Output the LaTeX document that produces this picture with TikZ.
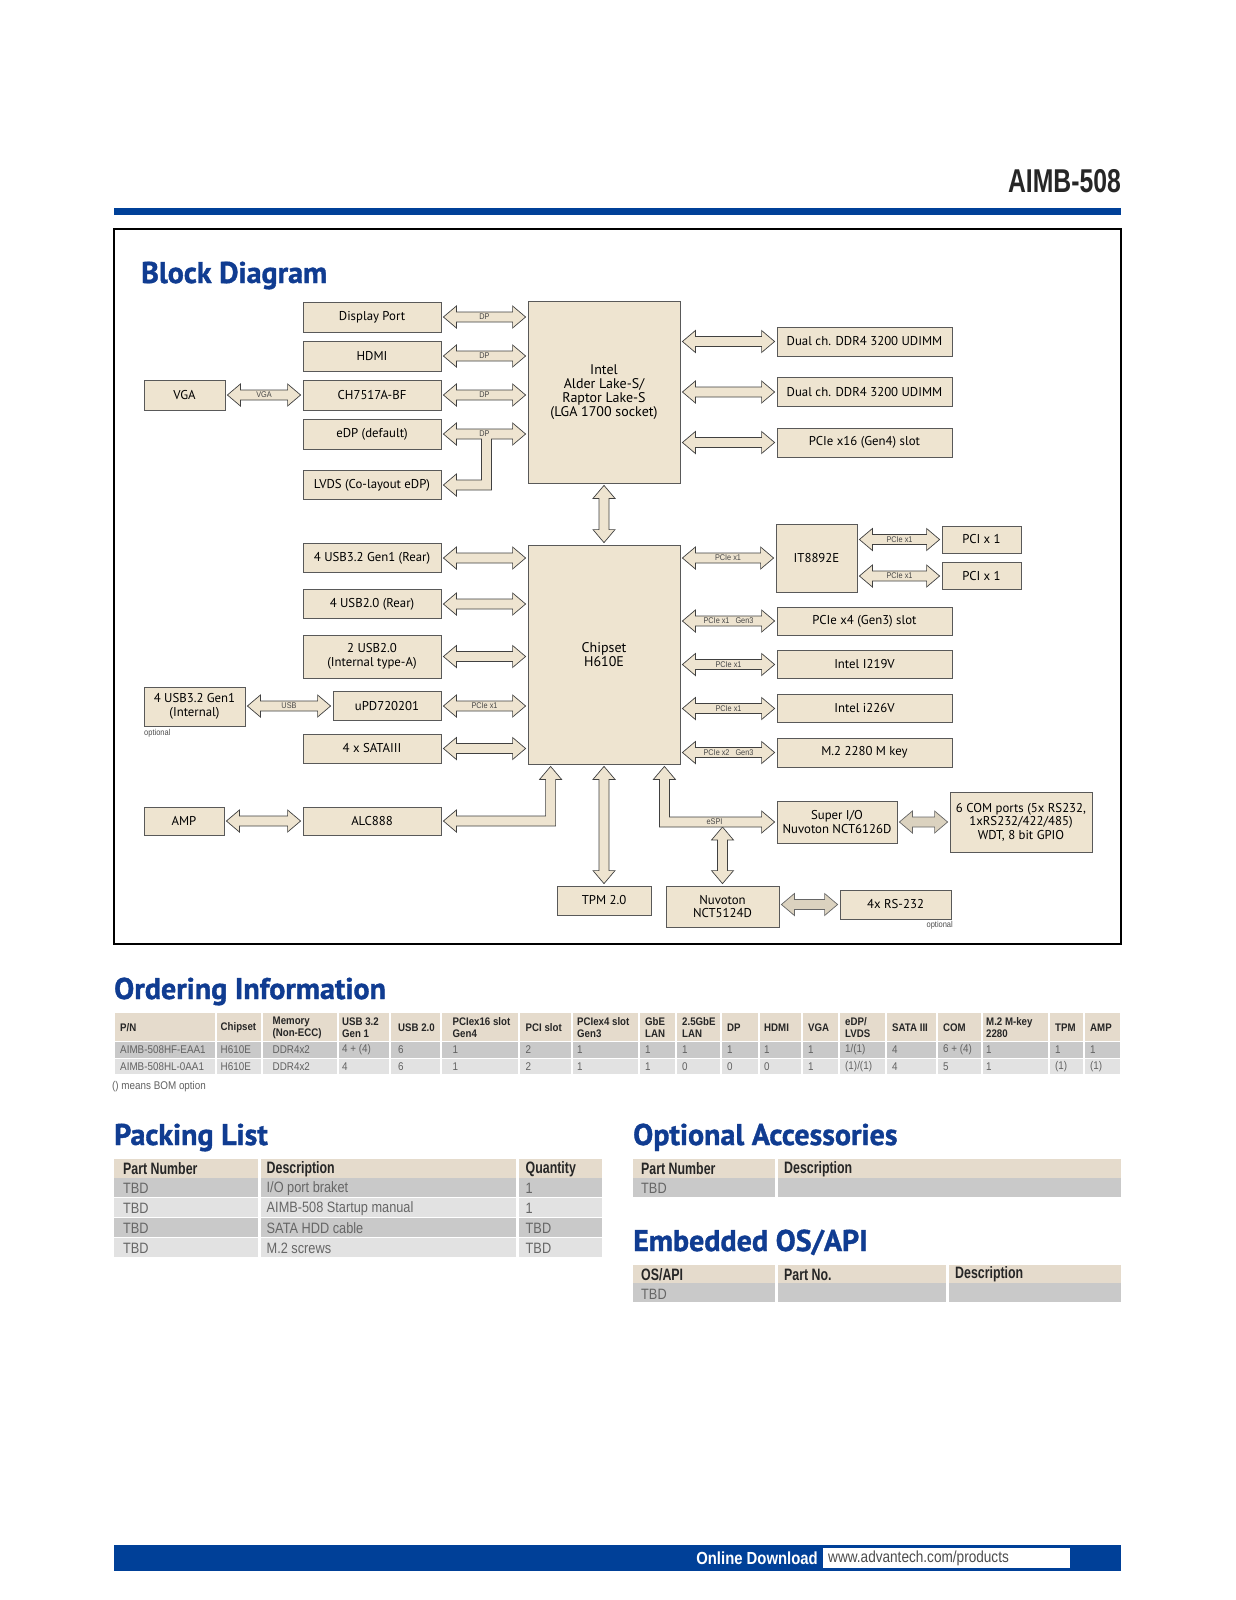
\documentclass[tikz,border=0pt]{standalone}
\usepackage{fontspec}
\setmainfont{PT Sans}
\newfontfamily\boxfont{PT Sans}
\newfontfamily\ttlfont[FakeStretch=1.0,BoldFeatures={FakeBold=1.2}]{PT Sans}
\newfontfamily\cndfont[FakeStretch=0.88]{Liberation Sans}
\newfontfamily\hdrfont[FakeStretch=0.75]{Liberation Sans}
\newfontfamily\pfont[FakeStretch=0.85]{Liberation Sans}
\usetikzlibrary{calc}
\definecolor{boxfill}{RGB}{238,228,208}
\definecolor{advblue}{RGB}{0,64,152}
\definecolor{ttlblue}{RGB}{16,60,145}
\definecolor{hdrtan}{RGB}{229,219,204}
\definecolor{rowA}{RGB}{201,201,201}
\definecolor{rowB}{RGB}{226,226,226}
\def\ag{2pt}
\def\ahl{13pt}
\def\ahw{11pt}
\def\abw{5pt}
\newcommand{\hda}[5][fatarrow]{%
 \draw[#1] let \p1=(#2), \p2=(#3), \p3=(#4) in
  (\x1+\ag,\y3) -- (\x1+\ag+\ahl,\y3+\ahw) -- (\x1+\ag+\ahl,\y3+\abw) -- (\x2-\ag-\ahl,\y3+\abw) -- (\x2-\ag-\ahl,\y3+\ahw) -- (\x2-\ag,\y3) -- (\x2-\ag-\ahl,\y3-\ahw) -- (\x2-\ag-\ahl,\y3-\abw) -- (\x1+\ag+\ahl,\y3-\abw) -- (\x1+\ag+\ahl,\y3-\ahw) -- cycle
  ({(\x1+\x2)/2},\y3) node[alabel]{#5};}
\newcommand{\vda}[3]{%
 \draw[fatarrow] let \p1=(#1), \p2=(#2), \p3=(#3) in
  (\x3,\y1-\ag) -- (\x3+\ahw,\y1-\ag-\ahl) -- (\x3+\abw,\y1-\ag-\ahl) -- (\x3+\abw,\y2+\ag+\ahl) -- (\x3+\ahw,\y2+\ag+\ahl) -- (\x3,\y2+\ag) -- (\x3-\ahw,\y2+\ag+\ahl) -- (\x3-\abw,\y2+\ag+\ahl) -- (\x3-\abw,\y1-\ag-\ahl) -- (\x3-\ahw,\y1-\ag-\ahl) -- cycle;}
\newcommand{\ocol}[7]{%
 \fill[hdrtan] (#2,1013) rectangle (#3,1041);
 \fill[rowA] (#2,1042) rectangle (#3,1057.5);
 \fill[rowB] (#2,1058.5) rectangle (#3,1074);
 \node[ohead] (oh#1) at (#4,1027.5) {#5};
 \node[odata] (oa#1) at (#4,1050) {#6};
 \node[odata] (ob#1) at (#4,1066.5) {#7};}
\begin{document}
\begin{tikzpicture}[x=1pt,y=-1pt,
 box/.style={draw=black!65, fill=boxfill, line width=0.8pt, inner sep=1pt, align=center, font=\boxfont\fontsize{12.8}{13.5}\selectfont, text=black},
 big/.style={font=\boxfont\fontsize{14}{14}\selectfont},
 fatarrow/.style={fill=boxfill, draw=black!75, line width=0.7pt, line join=miter},
 greyarrow/.style={fill=black!8!boxfill, draw=black!60, line width=0.7pt, line join=miter},
 alabel/.style={font=\cndfont\fontsize{8.3}{9}\selectfont, text=black!72, inner sep=0},
 small/.style={font=\cndfont\fontsize{8.5}{9}\selectfont, text=black!70, inner sep=0},
 ttl/.style={font=\ttlfont\bfseries\fontsize{30}{31}\selectfont, text=ttlblue, anchor=base west, inner sep=0},
 ohead/.style={font=\cndfont\bfseries\fontsize{11}{12}\selectfont, text=black!85, anchor=west, align=left, inner sep=0},
 odata/.style={font=\cndfont\fontsize{11.2}{12}\selectfont, text=black!62, anchor=west, inner sep=0},
 phead/.style={font=\hdrfont\bfseries\fontsize{16.5}{17}\selectfont, text=black!85, anchor=west, inner sep=0},
 pdata/.style={font=\pfont\fontsize{15}{16}\selectfont, text=black!60, anchor=west, inner sep=0}]
\useasboundingbox (0,0) rectangle (1236,1600);
\fill[white] (0,0) rectangle (1236,1600);
% page header
\node[font=\hdrfont\bfseries\fontsize{33}{34}\selectfont, text=black!85, anchor=base east, inner sep=0] (model) at (1121,192) {AIMB-508};
\fill[advblue] (114,208) rectangle (1121,215);
\draw[line width=2.6pt] (114,229) rectangle (1121,944);
\node[ttl] (tbd) at (141,283) {Block Diagram};
% main chips
\node[box, big, minimum width=152pt, minimum height=182pt] (cpu) at (604,392) {Intel\\Alder Lake-S/\\Raptor Lake-S\\(LGA 1700 socket)};
\node[box, big, minimum width=152pt, minimum height=219pt] (chip) at (604,654.5) {Chipset\\H610E};
% left of CPU
\node[box, minimum width=138pt, minimum height=30pt] (dp) at (372,317) {Display Port};
\node[box, minimum width=138pt, minimum height=30pt] (hdmi) at (372,356) {HDMI};
\node[box, minimum width=138pt, minimum height=30pt] (ch) at (372,395) {CH7517A-BF};
\node[box, minimum width=138pt, minimum height=30pt] (edp) at (372,434) {eDP (default)};
\node[box, minimum width=138pt, minimum height=29pt] (lvds) at (372,485) {LVDS (Co-layout eDP)};
\node[box, minimum width=81pt, minimum height=30pt] (vga) at (184.5,395) {VGA};
% right of CPU
\node[box, minimum width=175pt, minimum height=29pt] (ddra) at (864.5,341.5) {Dual ch. DDR4 3200 UDIMM};
\node[box, minimum width=175pt, minimum height=29pt] (ddrb) at (864.5,392) {Dual ch. DDR4 3200 UDIMM};
\node[box, minimum width=175pt, minimum height=29pt] (pcie16) at (864.5,442.5) {PCIe x16 (Gen4) slot};
% left of chipset
\node[box, minimum width=138pt, minimum height=29pt] (usb3r) at (372,558) {4 USB3.2 Gen1 (Rear)};
\node[box, minimum width=138pt, minimum height=29pt] (usb2r) at (372,604) {4 USB2.0 (Rear)};
\node[box, minimum width=138pt, minimum height=43pt] (usb2i) at (372,656.5) {2 USB2.0\\(Internal type-A)};
\node[box, minimum width=108pt, minimum height=29pt] (upd) at (387,706) {uPD720201};
\node[box, minimum width=101pt, minimum height=39pt] (usb3i) at (194.5,706.5) {4 USB3.2 Gen1\\(Internal)};
\node[small, anchor=north west] (opt1) at (144,729) {optional};
\node[box, minimum width=138pt, minimum height=29pt] (sata) at (372,748.5) {4 x SATAIII};
\node[box, minimum width=80pt, minimum height=28pt] (amp) at (184,821) {AMP};
\node[box, minimum width=138pt, minimum height=28pt] (alc) at (372,821) {ALC888};
% right of chipset
\node[box, minimum width=81pt, minimum height=68pt] (it) at (816.5,558) {IT8892E};
\node[box, minimum width=79pt, minimum height=27pt] (pcia) at (981.5,539.5) {PCI x 1};
\node[box, minimum width=79pt, minimum height=27pt] (pcib) at (981.5,576) {PCI x 1};
\node[box, minimum width=175pt, minimum height=28pt] (pcie4) at (864.5,621) {PCIe x4 (Gen3) slot};
\node[box, minimum width=175pt, minimum height=28pt] (i219) at (864.5,664.5) {Intel I219V};
\node[box, minimum width=175pt, minimum height=28pt] (i226) at (864.5,708.5) {Intel i226V};
\node[box, minimum width=175pt, minimum height=29pt] (m2) at (864.5,752.5) {M.2 2280 M key};
% bottom
\node[box, minimum width=120pt, minimum height=42pt] (sio) at (837,822) {Super I/O\\Nuvoton NCT6126D};
\node[box, minimum width=142pt, minimum height=60pt] (com) at (1021,822) {6 COM ports (5x RS232,\\1xRS232/422/485)\\WDT, 8 bit GPIO};
\node[box, minimum width=94pt, minimum height=29pt] (tpm) at (604,900.5) {TPM 2.0};
\node[box, minimum width=113pt, minimum height=41pt] (nct) at (722.5,906.5) {Nuvoton\\NCT5124D};
\node[box, minimum width=111pt, minimum height=29pt] (rs) at (895.5,904.5) {4x RS-232};
\node[small, anchor=north east] (opt2) at (953,921) {optional};
\coordinate (espiB) at (722.5,825);
% connectors
\hda{dp.east}{cpu.west}{dp.east}{DP}
\hda{hdmi.east}{cpu.west}{hdmi.east}{DP}
\hda{ch.east}{cpu.west}{ch.east}{DP}
\hda{vga.east}{ch.west}{vga.east}{VGA}
\draw[fatarrow] let \p1=(edp.east), \p2=(cpu.west), \p3=(lvds.east), \p4=({(\x1+\x2)/2+2pt},0) in
 (\x1+\ag,\y1) -- (\x1+\ag+\ahl,\y1+\ahw) -- (\x1+\ag+\ahl,\y1+\abw) -- (\x2-\ag-\ahl,\y1+\abw) -- (\x2-\ag-\ahl,\y1+\ahw) -- (\x2-\ag,\y1) -- (\x2-\ag-\ahl,\y1-\ahw) -- (\x2-\ag-\ahl,\y1-\abw) -- (\x4+\abw,\y1-\abw) -- (\x4+\abw,\y3-\abw) -- (\x3+\ag+\ahl,\y3-\abw) -- (\x3+\ag+\ahl,\y3-\ahw) -- (\x3+\ag,\y3) -- (\x3+\ag+\ahl,\y3+\ahw) -- (\x3+\ag+\ahl,\y3+\abw) -- (\x4-\abw,\y3+\abw) -- (\x4-\abw,\y1-\abw) -- (\x1+\ag+\ahl,\y1-\abw) -- (\x1+\ag+\ahl,\y1-\ahw) -- cycle
 ({(\x1+\x2)/2},\y1) node[alabel]{DP};
\hda{cpu.east}{ddra.west}{ddra.west}{}
\hda{cpu.east}{ddrb.west}{ddrb.west}{}
\hda{cpu.east}{pcie16.west}{pcie16.west}{}
\vda{cpu.south}{chip.north}{cpu.center}
\hda{usb3r.east}{chip.west}{usb3r.east}{}
\hda{usb2r.east}{chip.west}{usb2r.east}{}
\hda{usb2i.east}{chip.west}{usb2i.east}{}
\hda{upd.east}{chip.west}{upd.east}{PCIe x1}
\hda{usb3i.east}{upd.west}{upd.west}{USB}
\hda{sata.east}{chip.west}{sata.east}{}
\hda{amp.east}{alc.west}{amp.east}{}
\hda{chip.east}{it.west}{it.west}{PCIe x1}
\hda{it.east}{pcia.west}{pcia.west}{PCIe x1}
\hda{it.east}{pcib.west}{pcib.west}{PCIe x1}
\hda{chip.east}{pcie4.west}{pcie4.west}{PCIe x1\hspace{6pt}Gen3}
\hda{chip.east}{i219.west}{i219.west}{PCIe x1}
\hda{chip.east}{i226.west}{i226.west}{PCIe x1}
\hda{chip.east}{m2.west}{m2.west}{PCIe x2\hspace{6pt}Gen3}
\draw[fatarrow] let \p1=(alc.east), \p2=([xshift=23pt]chip.south west) in
 (\x1+\ag,\y1) -- (\x1+\ag+\ahl,\y1+\ahw) -- (\x1+\ag+\ahl,\y1+\abw) -- (\x2-\abw,\y1+\abw) -- (\x2-\abw,\y2-\ag-\ahl) -- (\x2-\ahw,\y2-\ag-\ahl) -- (\x2,\y2-\ag) -- (\x2+\ahw,\y2-\ag-\ahl) -- (\x2+\abw,\y2-\ag-\ahl) -- (\x2+\abw,\y1-\abw) -- (\x1+\ag+\ahl,\y1-\abw) -- (\x1+\ag+\ahl,\y1-\ahw) -- cycle;
\vda{chip.south}{tpm.north}{tpm.center}
\vda{espiB}{nct.north}{nct.center}
\draw[fatarrow] let \p1=([xshift=-16pt]chip.south east), \p2=(sio.west) in
 (\x1,\y1-\ag) -- (\x1+\ahw,\y1-\ag-\ahl) -- (\x1+\abw,\y1-\ag-\ahl) -- (\x1+\abw,\y2+\abw) -- (\x2-\ag-\ahl,\y2+\abw) -- (\x2-\ag-\ahl,\y2+\ahw) -- (\x2-\ag,\y2) -- (\x2-\ag-\ahl,\y2-\ahw) -- (\x2-\ag-\ahl,\y2-\abw) -- (\x1-\abw,\y2-\abw) -- (\x1-\abw,\y1-\ag-\ahl) -- (\x1-\ahw,\y1-\ag-\ahl) -- cycle
 ({(\x1+\x2)/2-6pt},\y2) node[alabel]{eSPI};
\hda[greyarrow]{sio.east}{com.west}{sio.east}{}
\hda[greyarrow]{nct.east}{rs.west}{rs.west}{}
% ordering information
\node[ttl] (tord) at (114,999) {Ordering Information};
\ocol{1}{115}{215}{120}{P/N}{AIMB-508HF-EAA1}{AIMB-508HL-0AA1}
\ocol{2}{217}{261}{220.5}{Chipset}{H610E}{H610E}
\ocol{3}{263}{337}{272.5}{Memory\\(Non-ECC)}{DDR4x2}{DDR4x2}
\ocol{4}{339}{389}{342}{USB 3.2\\Gen 1}{4 + (4)}{4}
\ocol{5}{391}{440}{398}{USB 2.0}{6}{6}
\ocol{6}{442}{518}{452.5}{PCIex16 slot\\Gen4}{1}{1}
\ocol{7}{520}{571}{525.5}{PCI slot}{2}{2}
\ocol{8}{573}{638}{577}{PCIex4 slot\\Gen3}{1}{1}
\ocol{9}{640}{675}{645}{GbE\\LAN}{1}{1}
\ocol{10}{677}{720}{682}{2.5GbE\\LAN}{1}{0}
\ocol{11}{722}{758}{727}{DP}{1}{0}
\ocol{12}{760}{801}{764}{HDMI}{1}{0}
\ocol{13}{803}{838}{808}{VGA}{1}{1}
\ocol{14}{840}{885}{845}{eDP/\\LVDS}{1/(1)}{(1)/(1)}
\ocol{15}{887}{936}{892}{SATA III}{4}{4}
\ocol{16}{938}{981}{943}{COM}{6 + (4)}{5}
\ocol{17}{983}{1048}{986}{M.2 M-key\\2280}{1}{1}
\ocol{18}{1050}{1083}{1055}{TPM}{1}{(1)}
\ocol{19}{1085}{1120}{1090}{AMP}{1}{(1)}
\node[odata] (bom) at (112,1087) {() means BOM option};
% packing list
\node[ttl] (tpack) at (114,1145) {Packing List};
\fill[hdrtan] (114,1159) rectangle (258,1178);
\fill[hdrtan] (261,1159) rectangle (516,1178);
\fill[hdrtan] (519,1159) rectangle (602,1178);
\foreach \ya/\yb/\c in {1178/1197/rowA,1198/1217/rowB,1218/1237/rowA,1238/1257/rowB}{
 \fill[\c] (114,\ya) rectangle (258,\yb);
 \fill[\c] (261,\ya) rectangle (516,\yb);
 \fill[\c] (519,\ya) rectangle (602,\yb);}
\node[phead] (ph1) at (123,1169) {Part Number};
\node[phead] (ph2) at (266.5,1169) {Description};
\node[phead] (ph3) at (525.5,1169) {Quantity};
\node[pdata] (p11) at (123,1188.5) {TBD};
\node[pdata] (p12) at (266.5,1188.5) {I/O port braket};
\node[pdata] (p13) at (525.5,1188.5) {1};
\node[pdata] (p21) at (123,1208.5) {TBD};
\node[pdata] (p22) at (266.5,1208.5) {AIMB-508 Startup manual};
\node[pdata] (p23) at (525.5,1208.5) {1};
\node[pdata] (p31) at (123,1228.5) {TBD};
\node[pdata] (p32) at (266.5,1228.5) {SATA HDD cable};
\node[pdata] (p33) at (525.5,1228.5) {TBD};
\node[pdata] (p41) at (123,1248.5) {TBD};
\node[pdata] (p42) at (266.5,1248.5) {M.2 screws};
\node[pdata] (p43) at (525.5,1248.5) {TBD};
% optional accessories
\node[ttl] (topt) at (633,1145) {Optional Accessories};
\fill[hdrtan] (633,1159) rectangle (775,1178);
\fill[hdrtan] (778,1159) rectangle (1121,1178);
\fill[rowA] (633,1178) rectangle (775,1197);
\fill[rowA] (778,1178) rectangle (1121,1197);
\node[phead] (oh1x) at (641,1169) {Part Number};
\node[phead] (oh2x) at (784,1169) {Description};
\node[pdata] (od1x) at (641,1188.5) {TBD};
% embedded OS
\node[ttl] (temb) at (633,1251) {Embedded OS/API};
\fill[hdrtan] (633,1265) rectangle (775,1283);
\fill[hdrtan] (778,1265) rectangle (946,1283);
\fill[hdrtan] (949,1265) rectangle (1121,1283);
\fill[rowA] (633,1283) rectangle (775,1302);
\fill[rowA] (778,1283) rectangle (946,1302);
\fill[rowA] (949,1283) rectangle (1121,1302);
\node[phead] (eh1) at (641,1274.5) {OS/API};
\node[phead] (eh2) at (784,1274.5) {Part No.};
\node[phead] (eh3) at (955,1274.5) {Description};
\node[pdata] (ed1) at (641,1294) {TBD};
% footer
\fill[advblue] (114,1545) rectangle (1121,1571);
\fill[white] (823,1548) rectangle (1070,1568);
\node[font=\pfont\bfseries\fontsize{17.5}{18}\selectfont, text=white, anchor=east, inner sep=0] (dl) at (818,1558) {Online Download};
\node[font=\pfont\fontsize{16}{17}\selectfont, text=black!70, anchor=west, inner sep=0] (url) at (828,1558) {www.advantech.com/products};
\end{tikzpicture}
\end{document}
